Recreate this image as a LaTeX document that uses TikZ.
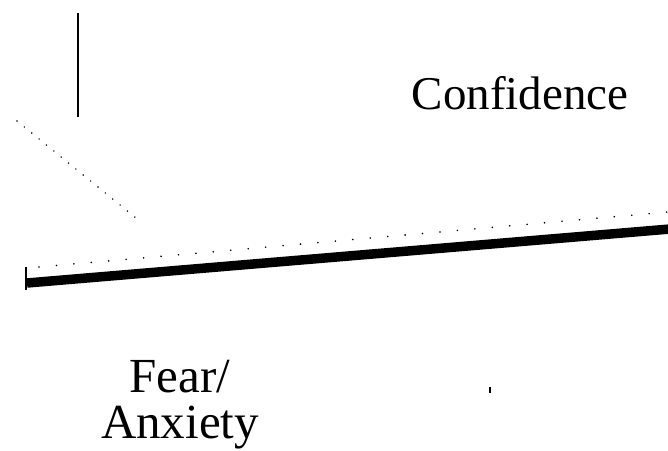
\documentclass[tikz,border=0pt]{standalone}
\usepackage{fontspec}
\setmainfont{Liberation Serif}
\usetikzlibrary{positioning}

\tikzset{
  label text/.style={font=\fontsize{47}{46}\selectfont, inner sep=0pt, align=center},
  dotline/.style={line width=1.8pt, line cap=round, dash pattern=on 0pt off 17.5pt},
  fineline/.style={line width=1.6pt, line cap=round, dash pattern=on 0pt off 9.5pt}
}

\begin{document}
\begin{tikzpicture}[x=1pt, y=-1pt]

% Frame
\useasboundingbox (0,0) rectangle (668,450);

% Vertical marker
\coordinate (vtop) at (78,13);
\coordinate (vbot) at (78,117);
\draw[line width=1.6pt] (vtop) -- (vbot);

% Dotted slope
\coordinate (dA) at (17,121);
\coordinate (dB) at (136,218);
\draw[fineline] (dA) -- (dB);

% Dotted guide above the bar
\coordinate (gL) at (39,267);
\coordinate (gR) at (668,212);
\draw[dotline] (gL) -- (gR);

% Thick bar
\coordinate (bL) at (27,283);
\coordinate (bR) at (670,229);
\draw[line width=9.5pt] (bL) -- (bR);
\coordinate (tTop) at (25.5,267);
\coordinate (tBot) at (25.5,290);
\draw[line width=2pt] (tTop) -- (tBot);

% Small tick
\coordinate (sTop) at (490,387);
\coordinate (sBot) at (490,393);
\draw[line width=1.2pt] (sTop) -- (sBot);

% Labels
\node[label text] (conf) at (520,93) {Confidence};
\node[label text, font=\fontsize{49}{46}\selectfont] (fear) at (180,405) {Fear/\\Anxiety};

\end{tikzpicture}
\end{document}
